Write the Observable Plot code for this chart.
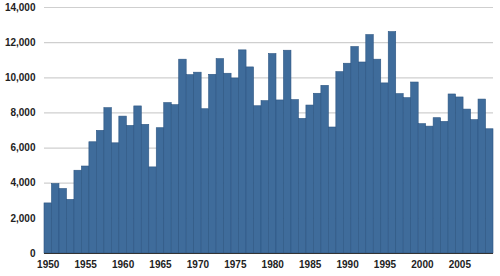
<!DOCTYPE html>
<html>
<head>
<meta charset="utf-8">
<script src="https://cdn.jsdelivr.net/npm/d3@7"></script>
<script src="https://cdn.jsdelivr.net/npm/@observablehq/plot@0.6"></script>
<style>
  html, body { margin: 0; padding: 0; background: #fff; }
  #chart svg { display: block; }
</style>
</head>
<body>
<div id="chart"></div>
<script>
const years = d3.range(1950, 2010);
const values = [
  2850, 3950, 3670, 3050, 4710, 4950, 6330, 6980, 8270, 6270,
  7790, 7260, 8370, 7320, 4900, 7130, 8560, 8440, 11030, 10150,
  10290, 8210, 10170, 11060, 10230, 9960, 11560, 10590, 8380, 8670,
  11350, 8710, 11540, 8730, 7660, 8420, 9090, 9540, 7170, 10320,
  10800, 11750, 10870, 12430, 11030, 9680, 12600, 9070, 8840, 9730,
  7360, 7220, 7700, 7490, 9050, 8880, 8190, 7590, 8760, 7070
];
const xTickYears = [1950, 1955, 1960, 1965, 1970, 1975, 1980, 1985, 1990, 1995, 2000, 2005];
const yTicks = [0, 2000, 4000, 6000, 8000, 10000, 12000, 14000];

const data = years.map((y, i) => ({year: y, value: values[i]}));

const chart = Plot.plot({
  width: 500,
  height: 276,
  marginLeft: 44,
  marginRight: 7,
  marginTop: 7,
  marginBottom: 23,
  style: {fontFamily: "'Liberation Sans', Arial, Helvetica, sans-serif", fontSize: "10px", fontWeight: "bold", color: "#222", background: "#fff"},
  x: {type: "band", domain: years, padding: 0, round: false, label: null, ticks: xTickYears, tickFormat: d => String(d), tickSize: 0, tickPadding: 7},
  y: {domain: [0, 14000], label: null, ticks: yTicks, tickFormat: d3.format(","), tickSize: 0, tickPadding: 9},
  marks: [
    Plot.ruleY(yTicks, {stroke: "#cfcfcf", strokeWidth: 1.2}),
    Plot.barY(data, {x: "year", y: "value", fill: "#3f6c9b", stroke: "#2c5582", strokeWidth: 0.6}),
    Plot.ruleY([0], {stroke: "#333", strokeWidth: 1.2})
  ]
});
document.getElementById("chart").appendChild(chart);
</script>
</body>
</html>
